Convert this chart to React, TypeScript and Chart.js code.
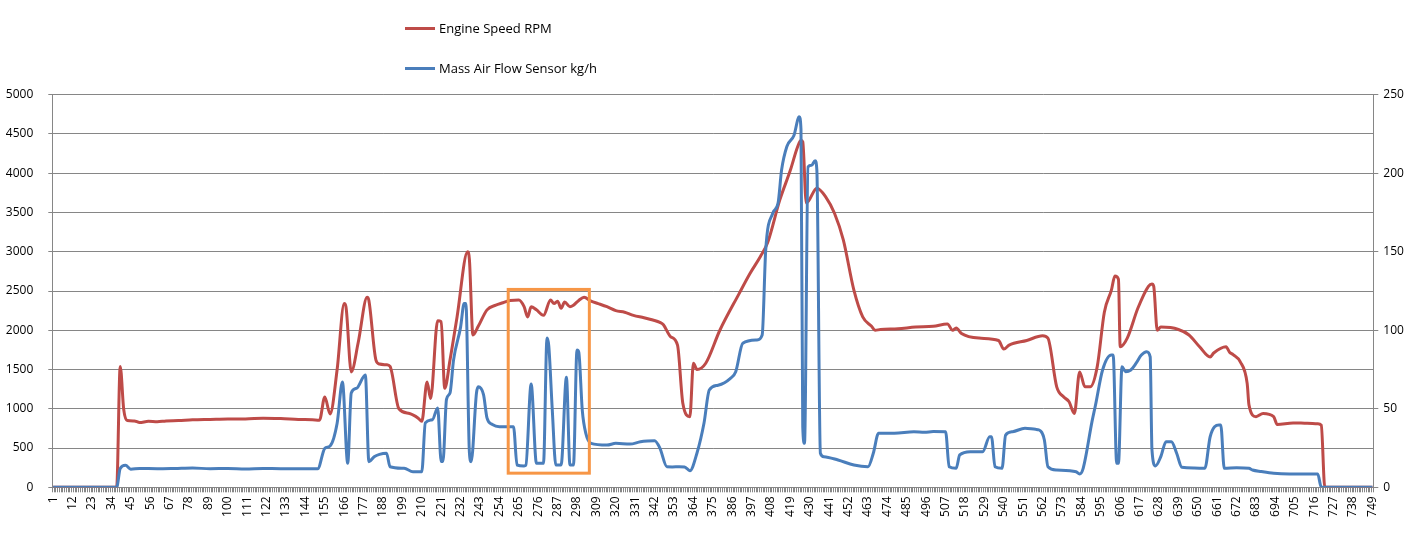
import { useEffect, useRef } from "react";
import { Chart, registerables } from "chart.js";

Chart.register(...registerables);

// x axis: one category per logged sample, a label on every 11th
const sampleCount = 749;
const sampleLabels = Array.from({ length: sampleCount }, (_, i) => i + 1);
const labelEvery = 11;

// Engine Speed RPM (left axis), breakpoints
const rpmX = [
  1, 37, 39, 41, 43, 47, 50, 55, 60, 65, 72, 80, 90, 100, 110, 120, 130, 140, 148, 152,
  155, 158, 162, 166, 167, 170, 174, 179, 180, 184, 186, 190, 192, 197, 203, 208, 210, 213, 215, 219,
  221, 223, 226, 230, 236, 237, 239, 242, 247, 252, 256, 260, 265, 268, 270, 272, 275, 279, 283, 285,
  287, 289, 291, 294, 296, 299, 302, 306, 310, 315, 320, 325, 330, 336, 341, 345, 347, 351, 355, 358,
  362, 364, 366, 371, 379, 390, 396, 402, 406, 413, 419, 423, 425, 426, 428, 434, 439, 444, 449, 455,
  460, 465, 467, 470, 480, 490, 500, 508, 511, 513, 516, 526, 537, 540, 543, 553, 562, 565, 570, 574,
  577, 580, 583, 586, 589, 593, 597, 601, 603, 605, 606, 610, 616, 622, 624, 625, 627, 629, 639, 645,
  651, 657, 659, 666, 668, 670, 674, 678, 679, 683, 687, 693, 695, 704, 712, 718, 720, 722, 749,
];
const rpmY = [
  0, 0, 1540, 990, 850, 845, 825, 840, 835, 845, 850, 860, 865, 870, 870, 880, 875, 865, 860, 855,
  1150, 935, 1500, 2340, 2300, 1470, 1850, 2420, 2380, 1620, 1570, 1560, 1540, 1000, 940, 880, 840, 1340, 1130, 2120,
  2110, 1260, 1620, 2170, 3000, 2900, 1940, 2050, 2260, 2320, 2350, 2380, 2385, 2300, 2170, 2300, 2260, 2190, 2385, 2340,
  2370, 2280, 2360, 2300, 2320, 2380, 2420, 2370, 2340, 2300, 2250, 2230, 2190, 2160, 2130, 2100, 2070, 1920, 1810, 1070,
  900, 1580, 1500, 1580, 2000, 2470, 2720, 2940, 3110, 3660, 4040, 4330, 4420, 4400, 3620, 3810, 3700, 3490, 3150, 2510,
  2170, 2050, 2000, 2010, 2020, 2040, 2050, 2080, 2000, 2030, 1960, 1900, 1870, 1760, 1810, 1870, 1930, 1900, 1280, 1150,
  1090, 940, 1470, 1280, 1280, 1540, 2230, 2510, 2690, 2650, 1790, 1900, 2280, 2560, 2590, 2560, 2000, 2040, 2010, 1940,
  1790, 1660, 1710, 1790, 1720, 1690, 1600, 1320, 1050, 900, 940, 900, 800, 820, 815, 810, 790, 0, 0,
];

// Mass Air Flow Sensor kg/h (right axis)
const mafX = [
  1, 37, 39, 42, 45, 50, 60, 70, 80, 90, 100, 110, 120, 130, 140, 151, 155, 158, 162, 165,
  168, 170, 173, 178, 180, 183, 186, 190, 192, 200, 205, 210, 212, 216, 219, 221, 222, 224, 226, 228,
  232, 234, 235, 237, 238, 241, 242, 245, 247, 250, 254, 262, 264, 268, 269, 272, 275, 279, 281, 282,
  284, 286, 289, 292, 294, 296, 298, 299, 301, 303, 306, 315, 320, 328, 334, 338, 342, 345, 349, 352,
  356, 359, 362, 366, 370, 373, 378, 385, 388, 392, 400, 403, 405, 409, 412, 414, 417, 421, 424, 425,
  426, 427, 429, 431, 433, 434, 436, 438, 446, 455, 463, 466, 469, 478, 489, 495, 500, 507, 509, 513,
  515, 521, 528, 532, 533, 535, 539, 541, 545, 552, 558, 560, 563, 565, 570, 581, 583, 585, 590, 592,
  596, 601, 602, 604, 605, 607, 609, 612, 615, 618, 621, 623, 624, 626, 629, 632, 635, 638, 641, 648,
  654, 657, 662, 663, 665, 672, 679, 681, 686, 693, 702, 718, 720, 749,
];
const mafY = [
  0, 0, 12, 14, 11.5, 12, 11.8, 12, 12.3, 11.8, 12, 11.7, 12, 11.8, 11.8, 11.8, 24.8, 26.3, 40.8, 67,
  15.3, 60, 63, 71.5, 16.3, 19.5, 21, 21.7, 13.1, 12.1, 9.9, 9.9, 41, 43, 50.5, 16.5, 16.5, 56, 60, 81,
  102, 117, 117, 22, 16.3, 60, 64, 59, 44, 40, 38.6, 38.6, 14.2, 13.6, 14, 65.8, 15.3, 15.3, 95, 90,
  49, 14.2, 14.2, 70, 14.2, 14.2, 87.4, 86, 49, 34.4, 28, 26.9, 28, 27.5, 29, 29.5, 29.7, 25, 13.1, 13,
  13.1, 13, 10.5, 21.7, 40.8, 62, 65, 69.4, 73.6, 91.7, 93.8, 97, 151, 174.5, 181, 202, 217, 224, 236, 228,
  38.6, 28, 204, 205, 208, 202, 21.7, 19.5, 17.4, 14.2, 13.1, 21.7, 34.4, 34.4, 35.4, 35, 35.5, 35.4, 13.1, 12.1,
  20.6, 22.7, 22.7, 32.2, 32.2, 13.1, 12.1, 33.3, 35.4, 37.6, 36.9, 36.5, 30.1, 13.1, 11, 9.9, 8.5, 12.1, 41.8, 52.4,
  74.7, 84.2, 84.2, 15.3, 15.3, 76.8, 73.6, 74.7, 79, 84.2, 86.3, 83, 23.8, 13.6, 19.5, 29, 29, 21.7, 12.7, 12.3,
  12.1, 32.2, 39.7, 39.7, 12.1, 12.5, 12.1, 11, 10, 8.9, 8.5, 8.5, 0, 0,
];

// highlighted window (sample range, rpm range)
const boxSamples = [259, 305];
const boxRpm = [180, 2520];

const RED = "#BE4B48";
const BLUE = "#4A7EBB";
const ORANGE = "#F79646";
const GRID = "#868686";
const FONT = "'Open Sans', sans-serif";

const boxPlugin = {
  id: "highlightBox",
  afterDatasetsDraw(chart: any) {
    const { ctx, scales } = chart;
    const x = scales.x;
    const y = scales.y;
    const left = x.getPixelForValue(boxSamples[0] - 1);
    const right = x.getPixelForValue(boxSamples[1] - 1);
    const top = y.getPixelForValue(boxRpm[1]);
    const bottom = y.getPixelForValue(boxRpm[0]);
    ctx.save();
    ctx.strokeStyle = ORANGE;
    ctx.lineWidth = 3;
    ctx.strokeRect(left, top, right - left, bottom - top);
    ctx.restore();
  },
};

export default function App() {
  const canvasRef = useRef<HTMLCanvasElement>(null);

  useEffect(() => {
    document.body.style.margin = "0";
    if (!canvasRef.current) return;
    Chart.defaults.font.family = FONT;
    Chart.defaults.font.size = 12;
    Chart.defaults.color = "#000";

    const chart = new Chart(canvasRef.current, {
      type: "line",
      data: {
        labels: sampleLabels,
        datasets: [
          {
            label: "Engine Speed RPM",
            data: rpmX.map((x, i) => ({ x, y: rpmY[i] })),
            borderColor: RED,
            borderWidth: 3,
            pointRadius: 0,
            cubicInterpolationMode: "monotone",
            borderJoinStyle: "round",
            yAxisID: "y",
            order: 2,
          },
          {
            label: "Mass Air Flow Sensor kg/h",
            data: mafX.map((x, i) => ({ x, y: mafY[i] })),
            borderColor: BLUE,
            borderWidth: 3,
            pointRadius: 0,
            cubicInterpolationMode: "monotone",
            borderJoinStyle: "round",
            yAxisID: "y1",
            order: 1,
          },
        ],
      },
      options: {
        responsive: true,
        maintainAspectRatio: false,
        animation: false,
        layout: { padding: { top: 94.7, left: 0, right: 0, bottom: 0 } },
        plugins: {
          legend: { display: false },
          tooltip: { enabled: false },
        },
        scales: {
          x: {
            type: "category",
            offset: true,
            grid: {
              offset: true,
              drawOnChartArea: false,
              tickLength: 5,
              color: GRID,
            },
            border: { color: GRID },
            ticks: {
              autoSkip: false,
              minRotation: 90,
              maxRotation: 90,
              padding: 4,
              callback: (_v: any, index: number) =>
                index % labelEvery === 0 ? String(sampleLabels[index]) : "",
            },
            afterFit: (s: any) => {
              s.height = 57.7;
            },
          },
          y: {
            position: "left",
            min: 0,
            max: 5000,
            ticks: { stepSize: 500, padding: 15, callback: (v: any) => String(v) },
            grid: { color: GRID, tickLength: 4 },
            border: { color: GRID },
            afterFit: (s: any) => {
              s.width = 52.3;
            },
          },
          y1: {
            position: "right",
            min: 0,
            max: 250,
            ticks: { stepSize: 50, padding: 5, callback: (v: any) => String(v) },
            grid: { drawOnChartArea: false, color: GRID, tickLength: 5 },
            border: { color: GRID },
            afterFit: (s: any) => {
              s.width = 42.7;
            },
          },
        },
      },
      plugins: [boxPlugin],
    });

    return () => chart.destroy();
  }, []);

  const legendRow = (color: string, text: string, top: number) => (
    <div
      style={{
        position: "absolute",
        left: 405,
        top: top - 9,
        height: 18,
        display: "flex",
        alignItems: "center",
        fontFamily: FONT,
        fontSize: 13,
        color: "#000",
        whiteSpace: "nowrap",
      }}
    >
      <span style={{ width: 30, height: 3, background: color, marginRight: 4 }} />
      <span>{text}</span>
    </div>
  );

  return (
    <div style={{ position: "relative", width: 1416, height: 545, background: "#fff" }}>
      <canvas ref={canvasRef} />
      {legendRow(RED, "Engine Speed RPM", 28)}
      {legendRow(BLUE, "Mass Air Flow Sensor kg/h", 68)}
    </div>
  );
}
